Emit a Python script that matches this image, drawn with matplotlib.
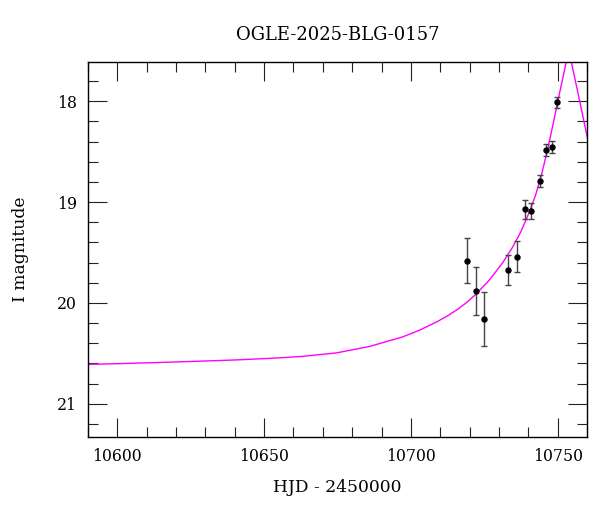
import matplotlib
matplotlib.use("Agg")
import matplotlib.pyplot as plt
from matplotlib.ticker import MultipleLocator

plt.rcParams['font.family'] = ['DejaVu Serif']

# Photometry (HJD - 2450000, I mag, error)
hjd = [10719.0, 10722.1, 10725.0, 10733.1, 10736.0, 10739.0, 10741.0, 10743.9, 10746.0, 10748.0, 10749.9]
mag = [19.58, 19.88, 20.16, 19.67, 19.54, 19.07, 19.09, 18.79, 18.48, 18.455, 18.01]
err = [0.22, 0.24, 0.27, 0.15, 0.15, 0.093, 0.082, 0.063, 0.058, 0.059, 0.053]

# Model curve
model_t = [10589.8, 10601.1, 10623.9, 10640.9, 10654.6, 10663.2, 10674.6, 10685.9,
           10697.3, 10703.0, 10709.2, 10713.0, 10716.0, 10719.0, 10722.3, 10726.8,
           10731.4, 10734.8, 10737.6, 10740.5, 10742.5, 10744.5, 10746.5, 10748.5,
           10750.5, 10752.5, 10753.0, 10753.8, 10754.6, 10755.1, 10757.1, 10759.1,
           10761.1]
model_mag = [20.610, 20.602, 20.582, 20.565, 20.546, 20.530, 20.496, 20.432,
             20.336, 20.270, 20.182, 20.119, 20.062, 19.996, 19.910, 19.771,
             19.596, 19.440, 19.286, 19.089, 18.929, 18.729, 18.489, 18.219,
             17.939, 17.669, 17.600, 17.480, 17.600, 17.669, 17.939, 18.219,
             18.489]

fig = plt.figure(figsize=(6, 5.12), dpi=100)
ax = fig.add_axes([0.1467, 0.1465, 0.8316, 0.7324])

ax.plot(model_t, model_mag, color='#ff00ff', lw=1.0, zorder=2)
ax.errorbar(hjd, mag, yerr=err, fmt='o', color='black', ms=3.6,
            ecolor='#444444', elinewidth=1.0, capsize=2.3, capthick=1.0, zorder=3)

ax.set_xlim(10590, 10760)
ax.set_ylim(21.33, 17.61)

ax.xaxis.set_major_locator(MultipleLocator(50))
ax.xaxis.set_minor_locator(MultipleLocator(10))
ax.yaxis.set_major_locator(MultipleLocator(1))
ax.yaxis.set_minor_locator(MultipleLocator(0.2))

ax.tick_params(which='both', direction='in', top=True, right=True,
               width=0.8, color='#222222', labelsize=11.3, pad=8)
ax.tick_params(which='major', length=13.5)
ax.tick_params(which='minor', length=7)
for s in ax.spines.values():
    s.set_linewidth(1.0)

ax.set_xlabel('HJD - 2450000', fontsize=12.3, labelpad=10)
ax.set_ylabel('I magnitude', fontsize=12.3, labelpad=20)
ax.set_title('OGLE-2025-BLG-0157', fontsize=13, pad=16)

fig.savefig('out.png', dpi=100)
